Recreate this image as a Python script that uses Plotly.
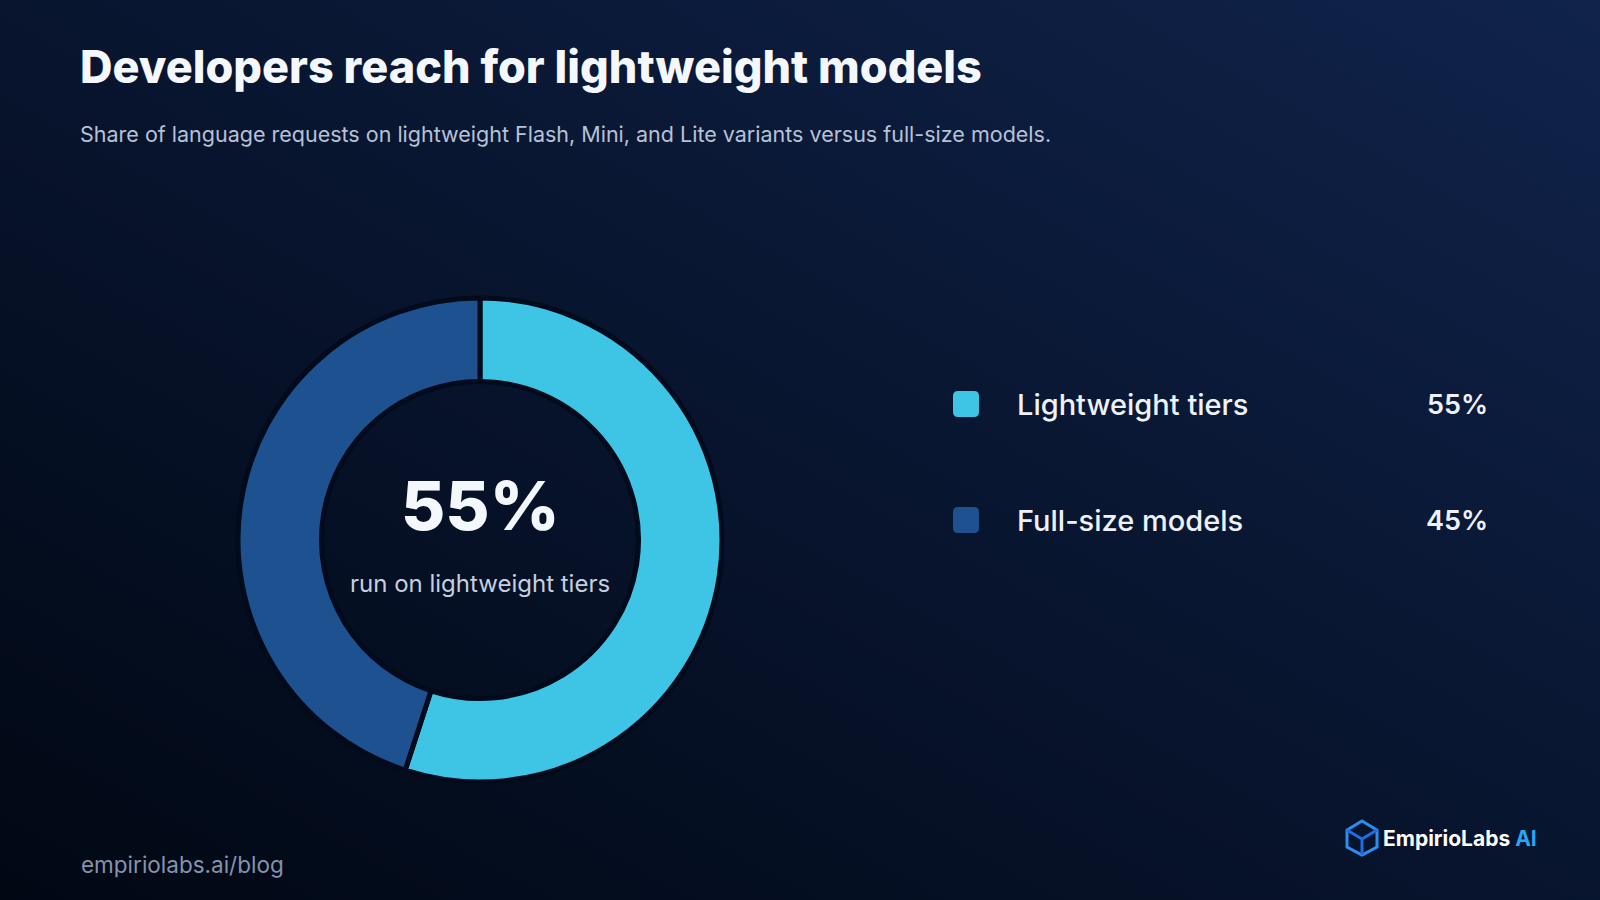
import base64
import plotly.graph_objects as go

# ---- data ----
labels = ["Lightweight tiers", "Full-size models"]
values = [55, 45]
colors = ["#3ec4e5", "#1e5190"]
title = "Developers reach for lightweight models"
subtitle = "Share of language requests on lightweight Flash, Mini, and Lite variants versus full-size models."
center_caption = "run on lightweight tiers"
footer = "empiriolabs.ai/blog"

W, H = 1600, 900
FONT = "Inter"

fig = go.Figure()

# donut
cx, cy, R = 480, 540, 242
fig.add_trace(go.Pie(
    labels=labels, values=values, sort=False, direction="clockwise", rotation=0,
    hole=0.655, textinfo="none", hoverinfo="label+percent",
    marker=dict(colors=colors, line=dict(color="#020b1c", width=5)),
    domain=dict(x=[(cx - R) / W, (cx + R) / W], y=[(H - cy - R) / H, (H - cy + R) / H]),
    showlegend=False,
))

# background gradient
svg = f'''<svg xmlns="http://www.w3.org/2000/svg" width="{W}" height="{H}" viewBox="0 0 {W} {H}">
<defs><linearGradient id="g" x1="1" y1="0" x2="0" y2="1">
<stop offset="0" stop-color="#10234b"/>
<stop offset="0.45" stop-color="#091631"/>
<stop offset="1" stop-color="#010814"/>
</linearGradient></defs>
<rect width="{W}" height="{H}" fill="url(#g)"/></svg>'''
uri = "data:image/svg+xml;base64," + base64.b64encode(svg.encode()).decode()

annotations = []
shapes = []


def note(text, x, y, size, color, anchor="left", weight=400):
    annotations.append(dict(text=text, x=x, y=y, xref="x", yref="y", xanchor=anchor, yanchor="middle",
                            showarrow=False, font=dict(family=FONT, size=size, color=color, weight=weight)))


note(title, 78, 66, 45, "#f4f7fb", weight=800)
note(subtitle, 78, 134, 21.5, "#b6c2d6")

# center text
note(f"{values[0]}%", cx, 505, 68, "#f4f8fc", anchor="center", weight=800)
note(center_caption, cx, 583, 24, "#c5cfdf", anchor="center")

# legend
total = sum(values)
for i, (lab, val, col) in enumerate(zip(labels, values, colors)):
    yc = 404 + i * 116
    s = 26
    x0, y0 = 953, yc - s / 2
    r = 5
    x1, y1 = x0 + s, y0 + s
    path = (f"M {x0+r},{y0} L {x1-r},{y0} Q {x1},{y0} {x1},{y0+r} L {x1},{y1-r} Q {x1},{y1} {x1-r},{y1} "
            f"L {x0+r},{y1} Q {x0},{y1} {x0},{y1-r} L {x0},{y0+r} Q {x0},{y0} {x0+r},{y0} Z")
    shapes.append(dict(type="path", path=path, xref="x", yref="y", fillcolor=col, line=dict(width=0)))
    note(lab, 1015, yc, 29, "#eef2f8", weight=500)
    note(f"{round(100 * val / total)}%", 1490, yc, 27, "#eef2f8", anchor="right", weight=600)

# footer
note(footer, 79, 864, 22.5, "#8593ab")

# logo icon (hexagonal cube outline)
ix, iy = 1362, 838
hexpts = [(ix, iy - 17), (ix + 15, iy - 8), (ix + 15, iy + 9), (ix, iy + 17), (ix - 15, iy + 9), (ix - 15, iy - 8)]
hp = "M " + " L ".join(f"{a},{b}" for a, b in hexpts) + " Z"
shapes.append(dict(type="path", path=hp, xref="x", yref="y", line=dict(color="#2a8ff0", width=3)))
shapes.append(dict(type="path", path=f"M {ix-15},{iy-8} L {ix},{iy+1} L {ix+15},{iy-8} M {ix},{iy+1} L {ix},{iy+17}",
                   xref="x", yref="y", line=dict(color="#1c6fe0", width=3)))
note("<b>EmpirioLabs</b><b><span style='color:#2aa5f2'> AI</span></b>", 1381, 838, 21, "#ffffff")

fig.update_layout(
    width=W, height=H, margin=dict(l=0, r=0, t=0, b=0),
    paper_bgcolor="#071226", plot_bgcolor="rgba(0,0,0,0)",
    xaxis=dict(range=[0, W], visible=False, fixedrange=True, domain=[0, 1]),
    yaxis=dict(range=[H, 0], visible=False, fixedrange=True, domain=[0, 1]),
    images=[dict(source=uri, xref="paper", yref="paper", x=0, y=1, sizex=1, sizey=1,
                 sizing="stretch", xanchor="left", yanchor="top", layer="below")],
    annotations=annotations, shapes=shapes,
)

fig.write_html("out.html", config={"displayModeBar": False})
